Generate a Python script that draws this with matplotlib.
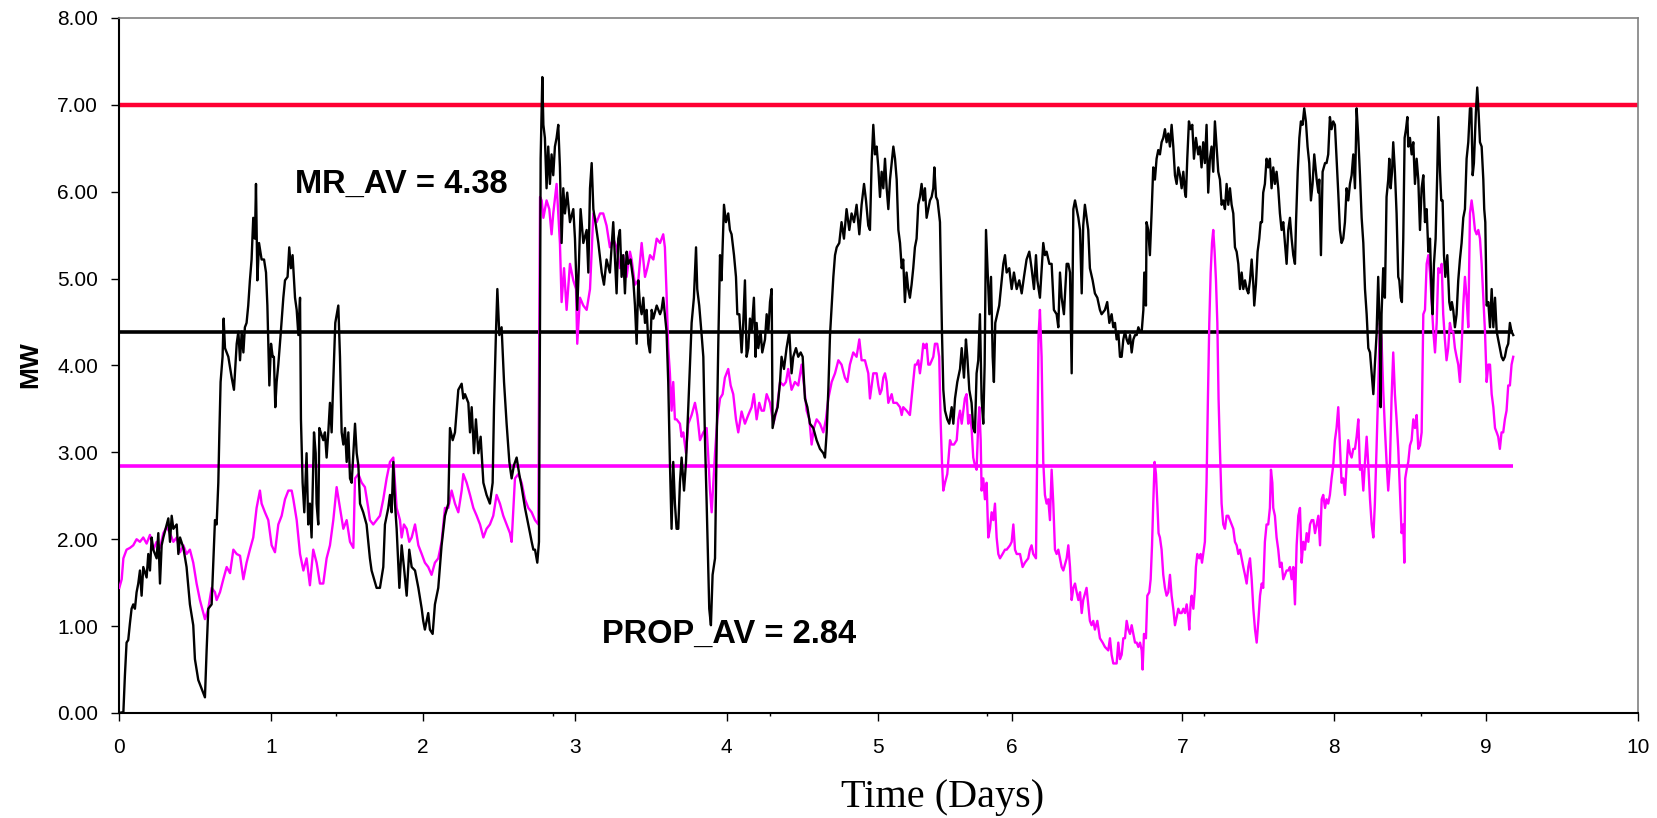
import numpy as np
import matplotlib
matplotlib.use("Agg")
import matplotlib.pyplot as plt

plt.rcParams['font.family'] = ['Liberation Sans', 'DejaVu Sans']

# ---------------- data ----------------
# MR series (black) : time in days, power in MW
mr_days_1 = [0.000, 0.029, 0.039, 0.050, 0.061, 0.072, 0.083, 0.094, 0.105, 0.116,
             0.127, 0.138, 0.149, 0.160, 0.182, 0.193, 0.204, 0.215, 0.226, 0.248,
             0.259, 0.270, 0.281, 0.292, 0.314, 0.325, 0.336, 0.347, 0.358, 0.380,
             0.391, 0.402, 0.424, 0.445, 0.467, 0.489, 0.500, 0.522, 0.544, 0.566,
             0.577, 0.588, 0.610, 0.632, 0.643, 0.654, 0.661, 0.669, 0.682, 0.689,
             0.698, 0.720, 0.742, 0.757, 0.775, 0.786, 0.797, 0.808, 0.819, 0.829,
             0.840, 0.851, 0.862, 0.873, 0.884, 0.895, 0.902, 0.911, 0.922, 0.939,
             0.955, 0.968, 0.977, 0.990, 1.001, 1.012, 1.020, 1.029, 1.038, 1.049,
             1.064, 1.082, 1.093, 1.110, 1.121, 1.132, 1.143, 1.159, 1.170, 1.181,
             1.192, 1.198, 1.209, 1.220, 1.235, 1.246, 1.257, 1.268, 1.284, 1.295,
             1.301, 1.312, 1.319, 1.328, 1.345, 1.356, 1.367, 1.378, 1.389, 1.400,
             1.407, 1.424, 1.444, 1.455, 1.466, 1.477, 1.488, 1.499, 1.510, 1.521,
             1.532, 1.554, 1.565, 1.576, 1.587, 1.608, 1.630]
mr_mw_1 = [0.00, 0.01, 0.43, 0.81, 0.84, 1.03, 1.20, 1.25, 1.20, 1.39,
           1.49, 1.64, 1.35, 1.68, 1.56, 1.83, 1.64, 2.02, 1.88, 1.78,
           2.07, 1.49, 1.93, 2.02, 2.17, 2.24, 1.97, 2.27, 2.12, 2.17,
           1.83, 2.02, 1.90, 1.68, 1.25, 1.01, 0.62, 0.38, 0.28, 0.18,
           0.72, 1.20, 1.25, 2.22, 2.17, 2.65, 3.23, 3.81, 4.10, 4.54,
           4.20, 4.10, 3.86, 3.72, 4.25, 4.39, 4.06, 4.39, 4.15, 4.44,
           4.49, 4.69, 4.98, 5.22, 5.70, 5.46, 6.09, 4.98, 5.41, 5.22,
           5.22, 5.07, 4.69, 3.77, 4.25, 4.10, 4.10, 3.52, 3.81, 4.01,
           4.35, 4.78, 4.98, 5.02, 5.36, 5.12, 5.27, 4.78, 4.64, 4.35,
           4.78, 3.38, 2.65, 2.31, 2.99, 2.17, 2.41, 2.02, 3.23, 2.99,
           2.41, 2.17, 3.28, 3.23, 3.14, 3.23, 2.94, 3.23, 3.57, 3.23,
           3.62, 4.49, 4.69, 4.10, 3.23, 3.09, 3.28, 2.89, 3.23, 2.70,
           2.65, 3.33, 2.99, 2.85, 2.41, 2.31, 2.17]

mr_days_2 = [1.652, 1.663, 1.696, 1.718, 1.740, 1.751, 1.773, 1.784, 1.795, 1.806,
             1.817, 1.828, 1.846, 1.861, 1.876, 1.894, 1.911, 1.927, 1.949, 1.971,
             1.993, 2.003, 2.014, 2.036, 2.047, 2.065, 2.080, 2.102, 2.124, 2.146,
             2.168, 2.179, 2.197, 2.212, 2.234, 2.256, 2.267, 2.278, 2.300, 2.311,
             2.322, 2.337, 2.350, 2.366, 2.381, 2.399, 2.420, 2.442, 2.460, 2.469,
             2.482, 2.491, 2.504, 2.519, 2.535, 2.552, 2.570, 2.585, 2.600, 2.618,
             2.635, 2.651, 2.673, 2.695, 2.706, 2.717, 2.728, 2.739, 2.754, 2.765,
             2.772, 2.776, 2.787, 2.794, 2.804, 2.815, 2.826, 2.837, 2.848, 2.859,
             2.870, 2.881, 2.892, 2.903, 2.914, 2.925, 2.936, 2.951, 2.969, 2.991,
             3.002, 3.017, 3.028, 3.039, 3.057, 3.079, 3.090, 3.101, 3.112, 3.123,
             3.140, 3.156, 3.178, 3.193, 3.210, 3.232, 3.254, 3.276]
mr_mw_2 = [1.78, 1.64, 1.44, 1.44, 1.68, 2.17, 2.36, 2.51, 2.31, 2.89,
           2.41, 2.12, 1.44, 1.93, 1.68, 1.35, 1.88, 1.68, 1.64, 1.44,
           1.20, 1.06, 0.96, 1.15, 0.96, 0.91, 1.25, 1.44, 1.93, 2.27,
           2.41, 3.28, 3.14, 3.23, 3.72, 3.79, 3.62, 3.67, 3.57, 3.23,
           3.52, 2.99, 3.38, 2.99, 3.18, 2.65, 2.51, 2.41, 2.65, 3.52,
           4.39, 4.88, 4.35, 4.44, 3.81, 3.33, 2.89, 2.70, 2.85, 2.94,
           2.75, 2.60, 2.36, 2.17, 2.07, 1.97, 1.88, 1.88, 1.73, 1.97,
           4.59, 6.38, 7.32, 6.77, 6.62, 6.04, 6.52, 6.09, 6.43, 6.19,
           6.52, 6.62, 6.77, 6.28, 5.41, 6.04, 5.75, 5.99, 5.65, 5.80,
           5.46, 4.64, 5.17, 5.80, 5.41, 5.56, 5.07, 6.04, 6.33, 5.80,
           5.61, 5.41, 5.07, 4.93, 5.22, 5.07, 5.65, 4.83]

mr_days_3 = [3.287, 3.298, 3.309, 3.320, 3.331, 3.342, 3.353, 3.368, 3.386, 3.397,
             3.408, 3.419, 3.430, 3.441, 3.452, 3.463, 3.474, 3.485, 3.496, 3.507,
             3.518, 3.540, 3.562, 3.572, 3.583, 3.594, 3.605, 3.616, 3.627, 3.638,
             3.649, 3.660, 3.671, 3.682, 3.693, 3.704, 3.720, 3.733, 3.748, 3.770,
             3.785, 3.799, 3.807, 3.820, 3.836, 3.847, 3.858, 3.869, 3.886, 3.897,
             3.908, 3.924, 3.935, 3.946, 3.957, 3.967, 3.983, 3.996, 4.011, 4.022,
             4.033, 4.049, 4.062, 4.071, 4.084, 4.099, 4.110, 4.121, 4.132, 4.143,
             4.154, 4.165, 4.180, 4.191, 4.198, 4.209, 4.224, 4.235, 4.253, 4.264,
             4.275, 4.286, 4.297, 4.303, 4.319, 4.336, 4.352, 4.362, 4.378, 4.395,
             4.413, 4.428, 4.439, 4.457, 4.472, 4.488, 4.501, 4.516, 4.532, 4.549,
             4.571, 4.593, 4.615, 4.637, 4.648, 4.659, 4.670, 4.681, 4.692, 4.703,
             4.714, 4.725, 4.742, 4.757, 4.773, 4.790, 4.808, 4.823, 4.839, 4.856,
             4.874, 4.889, 4.905, 4.918]
mr_mw_3 = [5.46, 5.56, 5.02, 5.27, 4.83, 5.31, 5.17, 5.22, 4.98, 4.69,
           4.25, 4.98, 4.69, 4.59, 4.78, 4.49, 4.64, 4.25, 4.15, 4.64,
           4.54, 4.69, 4.59, 4.64, 4.78, 4.59, 4.39, 3.81, 2.89, 2.12,
           2.89, 2.41, 2.12, 2.12, 2.65, 2.94, 2.56, 2.89, 3.52, 4.49,
           4.78, 5.36, 4.88, 4.69, 4.35, 4.10, 3.14, 2.41, 1.20, 1.01,
           1.59, 1.78, 3.14, 4.30, 5.27, 4.98, 5.85, 5.65, 5.75, 5.56,
           5.51, 5.27, 5.02, 4.59, 4.59, 4.15, 4.49, 4.98, 4.10, 4.20,
           4.54, 4.39, 4.78, 4.10, 4.49, 4.20, 4.39, 4.15, 4.30, 4.59,
           4.39, 4.73, 4.88, 3.28, 3.43, 3.52, 3.81, 4.10, 3.96, 4.20,
           4.39, 3.91, 4.10, 4.20, 4.10, 4.15, 4.10, 3.62, 3.52, 3.33,
           3.28, 3.14, 3.04, 2.99, 2.94, 3.23, 3.72, 4.35, 4.69, 5.02,
           5.27, 5.36, 5.41, 5.65, 5.46, 5.80, 5.56, 5.75, 5.65, 5.85,
           5.51, 5.85, 6.09, 5.90]

mr_days_4 = [4.933, 4.944, 4.955, 4.966, 4.977, 4.988, 4.999, 5.010, 5.021, 5.032,
             5.043, 5.054, 5.065, 5.076, 5.087, 5.098, 5.109, 5.120, 5.131, 5.142,
             5.153, 5.163, 5.174, 5.185, 5.196, 5.207, 5.218, 5.229, 5.240, 5.251,
             5.262, 5.273, 5.284, 5.295, 5.306, 5.317, 5.328, 5.339, 5.350, 5.361,
             5.368, 5.379, 5.389, 5.405, 5.411, 5.418, 5.427, 5.438, 5.453, 5.466,
             5.482, 5.493, 5.504, 5.519, 5.537, 5.548, 5.563, 5.576, 5.585, 5.598,
             5.613, 5.624, 5.635, 5.646, 5.657, 5.668, 5.679, 5.690, 5.699, 5.708,
             5.719, 5.730, 5.741, 5.752, 5.760, 5.769, 5.782, 5.795, 5.811, 5.822,
             5.833, 5.844, 5.861, 5.877, 5.892, 5.910, 5.927, 5.943, 5.958, 5.975,
             5.993, 6.008, 6.024, 6.037, 6.046, 6.063, 6.085, 6.096, 6.107, 6.125,
             6.140, 6.155, 6.173, 6.184, 6.195, 6.206, 6.221, 6.239, 6.250, 6.261,
             6.272, 6.283, 6.294, 6.305, 6.316, 6.327, 6.338, 6.348, 6.359, 6.370,
             6.381, 6.392, 6.410, 6.425, 6.441, 6.458, 6.469, 6.491, 6.506, 6.520,
             6.535, 6.546, 6.557, 6.568]
mr_mw_4 = [5.61, 5.56, 6.33, 6.77, 6.43, 6.52, 6.28, 5.94, 6.23, 6.04,
           6.38, 6.04, 5.80, 6.14, 6.33, 6.52, 6.38, 6.14, 5.56, 5.41,
           5.12, 5.22, 4.73, 5.07, 4.88, 4.78, 4.93, 5.12, 5.36, 5.46,
           5.85, 5.94, 6.09, 5.90, 6.04, 5.70, 5.80, 5.90, 5.94, 6.04,
           6.28, 5.94, 5.90, 5.65, 5.07, 4.39, 3.72, 3.48, 3.38, 3.33,
           3.52, 3.33, 3.62, 3.81, 3.96, 4.20, 3.86, 4.30, 4.10, 3.72,
           3.57, 3.28, 3.23, 3.91, 4.06, 4.59, 3.62, 3.33, 4.01, 5.56,
           5.07, 4.59, 5.02, 4.10, 3.81, 4.49, 4.59, 4.69, 4.98, 5.17,
           5.27, 5.07, 5.12, 4.88, 5.07, 4.88, 4.98, 4.83, 5.02, 5.22,
           5.31, 5.12, 4.88, 5.27, 4.98, 4.78, 5.41, 5.27, 5.31, 5.17,
           5.17, 4.64, 4.59, 4.44, 5.07, 4.78, 4.59, 5.17, 5.17, 5.07,
           3.91, 5.80, 5.90, 5.80, 5.70, 5.56, 4.83, 5.61, 5.85, 5.70,
           5.56, 5.12, 4.98, 4.83, 4.78, 4.64, 4.59, 4.64, 4.73, 4.49,
           4.59, 4.44, 4.49, 4.30]

mr_days_5 = [6.579, 6.590, 6.601, 6.612, 6.623, 6.634, 6.645, 6.656, 6.667, 6.678,
             6.689, 6.700, 6.711, 6.722, 6.733, 6.744, 6.750, 6.761, 6.765, 6.776,
             6.787, 6.798, 6.809, 6.820, 6.831, 6.842, 6.853, 6.864, 6.875, 6.886,
             6.897, 6.908, 6.919, 6.930, 6.941, 6.952, 6.963, 6.974, 6.985, 6.996,
             7.007, 7.018, 7.024, 7.033, 7.044, 7.055, 7.066, 7.077, 7.090, 7.105,
             7.116, 7.127, 7.138, 7.149, 7.160, 7.171, 7.182, 7.193, 7.204, 7.215,
             7.226, 7.237, 7.248, 7.259, 7.270, 7.281, 7.292, 7.303, 7.314, 7.325,
             7.336, 7.347, 7.358, 7.369, 7.380, 7.391, 7.402, 7.413, 7.424, 7.435,
             7.446, 7.457, 7.468, 7.474, 7.485, 7.496, 7.507, 7.516, 7.525, 7.533,
             7.544, 7.555, 7.566, 7.577, 7.588, 7.599, 7.610, 7.621, 7.632, 7.643,
             7.654, 7.665, 7.676, 7.687, 7.698, 7.709, 7.720, 7.731, 7.742, 7.749,
             7.760, 7.771, 7.781, 7.792, 7.803, 7.814, 7.825, 7.836, 7.847, 7.858,
             7.869, 7.885, 7.896, 7.902, 7.913, 7.924, 7.940, 7.950, 7.961, 7.972,
             7.983, 7.994, 8.005, 8.016, 8.027, 8.038, 8.049, 8.060, 8.071, 8.082,
             8.093, 8.104, 8.115, 8.126, 8.137, 8.148, 8.159, 8.170, 8.181, 8.192,
             8.203, 8.214]
mr_mw_5 = [4.39, 4.10, 4.10, 4.30, 4.39, 4.30, 4.25, 4.35, 4.15, 4.30,
           4.35, 4.35, 4.44, 4.39, 4.39, 4.64, 5.07, 4.69, 5.65, 5.56,
           5.27, 5.75, 6.28, 6.14, 6.38, 6.48, 6.43, 6.57, 6.62, 6.72,
           6.57, 6.67, 6.52, 6.77, 6.52, 6.19, 6.09, 6.28, 6.19, 6.04,
           6.23, 5.99, 5.94, 6.38, 6.81, 6.72, 6.77, 6.38, 6.62, 6.43,
           6.52, 6.28, 6.57, 6.33, 6.77, 5.99, 6.38, 6.52, 6.23, 6.81,
           6.52, 6.23, 6.14, 5.85, 5.90, 5.80, 6.09, 5.85, 6.04, 5.85,
           5.75, 5.36, 5.31, 5.17, 4.88, 5.07, 4.88, 4.98, 4.88, 4.83,
           4.98, 5.22, 4.93, 4.69, 4.93, 5.31, 5.46, 5.65, 5.65, 5.99,
           6.09, 6.38, 6.28, 6.38, 6.04, 6.28, 6.09, 6.23, 6.04, 5.75,
           5.56, 5.65, 5.41, 5.17, 5.56, 5.70, 5.46, 5.27, 5.17, 5.65,
           6.23, 6.62, 6.81, 6.77, 6.96, 6.81, 6.52, 6.33, 5.90, 6.09,
           6.43, 6.14, 5.99, 6.14, 5.27, 6.23, 6.33, 6.33, 6.43, 6.86,
           6.72, 6.81, 6.77, 6.38, 5.99, 5.56, 5.41, 5.46, 5.65, 6.04,
           5.90, 6.09, 6.19, 6.43, 6.04, 6.96, 6.62, 6.19, 5.70, 5.41,
           4.88, 4.59]

mr_days_6 = [8.225, 8.236, 8.247, 8.258, 8.268, 8.279, 8.290, 8.301, 8.306, 8.312,
             8.323, 8.334, 8.345, 8.356, 8.363, 8.372, 8.381, 8.389, 8.400, 8.411,
             8.422, 8.429, 8.438, 8.446, 8.455, 8.464, 8.473, 8.482, 8.488, 8.499,
             8.510, 8.521, 8.532, 8.543, 8.554, 8.565, 8.576, 8.587, 8.598, 8.609,
             8.620, 8.631, 8.642, 8.648, 8.657, 8.668, 8.679, 8.686, 8.697, 8.705,
             8.714, 8.723, 8.732, 8.745, 8.758, 8.767, 8.775, 8.784, 8.795, 8.806,
             8.817, 8.828, 8.839, 8.850, 8.861, 8.872, 8.883, 8.894, 8.903, 8.912,
             8.920, 8.933, 8.942, 8.951, 8.960, 8.971, 8.982, 8.988, 8.995, 9.004,
             9.015, 9.026, 9.037, 9.048, 9.059, 9.070, 9.080, 9.091, 9.102, 9.113,
             9.124, 9.135, 9.146, 9.157, 9.168, 9.179]
mr_mw_6 = [4.20, 4.15, 3.91, 3.67, 4.01, 4.35, 5.02, 4.35, 3.52, 4.59,
           5.12, 4.78, 5.94, 6.14, 6.38, 6.04, 6.23, 6.57, 6.23, 5.75,
           5.02, 4.98, 4.78, 4.73, 5.46, 6.62, 6.72, 6.86, 6.52, 6.62,
           6.43, 6.57, 6.09, 6.38, 6.14, 5.56, 6.04, 6.19, 5.65, 5.80,
           5.31, 5.46, 4.78, 4.59, 5.17, 5.46, 6.23, 6.86, 6.23, 5.90,
           5.90, 5.27, 5.02, 5.27, 4.73, 4.64, 4.73, 4.64, 4.44, 4.59,
           4.98, 5.22, 5.41, 5.70, 5.80, 6.38, 6.57, 6.96, 6.96, 6.19,
           6.33, 6.91, 7.20, 6.91, 6.57, 6.52, 6.14, 5.80, 5.65, 4.69,
           4.73, 4.44, 4.88, 4.44, 4.78, 4.39, 4.30, 4.20, 4.10, 4.06,
           4.10, 4.20, 4.25, 4.49, 4.39, 4.35]

# PROP series (magenta)
prop_days_1 = [0.002, 0.018, 0.029, 0.050, 0.072, 0.094, 0.116, 0.138, 0.160, 0.182,
               0.204, 0.226, 0.248, 0.270, 0.292, 0.314, 0.336, 0.358, 0.380, 0.402,
               0.424, 0.445, 0.467, 0.489, 0.511, 0.533, 0.555, 0.566, 0.588, 0.610,
               0.632, 0.643, 0.665, 0.687, 0.709, 0.731, 0.753, 0.775, 0.797, 0.819,
               0.840, 0.862, 0.884, 0.906, 0.928, 0.939, 0.961, 0.983, 1.005, 1.027,
               1.049, 1.071, 1.093, 1.115, 1.137, 1.148, 1.170, 1.192, 1.214, 1.235,
               1.257, 1.279, 1.301, 1.323, 1.345, 1.367, 1.389, 1.411, 1.433, 1.455,
               1.477, 1.499, 1.521, 1.543, 1.554, 1.576, 1.598, 1.619, 1.641]
prop_mw_1 = [1.44, 1.54, 1.78, 1.88, 1.90, 1.93, 2.00, 1.97, 2.02, 1.95,
             2.05, 1.88, 1.97, 1.90, 2.07, 2.14, 2.07, 1.97, 2.02, 1.85,
             1.93, 1.83, 1.88, 1.73, 1.49, 1.30, 1.15, 1.08, 1.20, 1.44,
             1.39, 1.30, 1.39, 1.54, 1.68, 1.61, 1.88, 1.83, 1.81, 1.54,
             1.73, 1.88, 2.02, 2.36, 2.56, 2.41, 2.31, 2.22, 1.93, 1.85,
             2.17, 2.27, 2.46, 2.56, 2.56, 2.46, 2.22, 1.83, 1.64, 1.78,
             1.47, 1.88, 1.73, 1.49, 1.49, 1.78, 1.93, 2.22, 2.60, 2.36,
             2.12, 2.22, 1.97, 1.90, 2.70, 2.75, 2.65, 2.60, 2.36]

prop_days_2 = [1.652, 1.674, 1.696, 1.718, 1.740, 1.762, 1.784, 1.806, 1.817, 1.828,
               1.850, 1.861, 1.876, 1.894, 1.911, 1.927, 1.949, 1.971, 1.993, 2.014,
               2.036, 2.058, 2.080, 2.102, 2.124, 2.146, 2.168, 2.190, 2.212, 2.234,
               2.256, 2.267, 2.289, 2.311, 2.333, 2.355, 2.377, 2.399, 2.420, 2.442,
               2.464, 2.486, 2.508, 2.530, 2.552, 2.574, 2.585, 2.607, 2.629, 2.651,
               2.673, 2.695, 2.717, 2.739, 2.761, 2.767, 2.772, 2.783, 2.794, 2.815,
               2.833, 2.848, 2.859, 2.881, 2.903, 2.914, 2.930, 2.947, 2.969, 2.991,
               3.009, 3.017, 3.035, 3.057, 3.079, 3.101, 3.123, 3.145, 3.167, 3.188,
               3.210, 3.232, 3.254, 3.276]
prop_mw_2 = [2.22, 2.17, 2.22, 2.27, 2.46, 2.70, 2.89, 2.94, 2.65, 2.36,
             2.22, 2.02, 2.17, 2.12, 1.97, 2.02, 2.17, 1.93, 1.83, 1.73,
             1.68, 1.59, 1.73, 1.78, 1.97, 2.36, 2.36, 2.56, 2.41, 2.31,
             2.56, 2.75, 2.65, 2.51, 2.36, 2.27, 2.17, 2.02, 2.12, 2.17,
             2.27, 2.51, 2.41, 2.27, 2.17, 2.07, 1.97, 2.70, 2.75, 2.65,
             2.46, 2.36, 2.31, 2.22, 2.17, 4.39, 5.94, 5.90, 5.70, 5.90,
             5.80, 5.51, 5.75, 6.09, 5.41, 4.73, 5.12, 4.64, 5.17, 4.98,
             4.88, 4.25, 4.78, 4.69, 4.64, 4.88, 5.75, 5.65, 5.75, 5.75,
             5.61, 5.36, 5.46, 5.36]

prop_days_3 = [3.298, 3.320, 3.342, 3.364, 3.375, 3.397, 3.419, 3.441, 3.463, 3.478,
               3.496, 3.518, 3.540, 3.562, 3.583, 3.594, 3.605, 3.616, 3.627, 3.638,
               3.649, 3.660, 3.671, 3.693, 3.704, 3.715, 3.733, 3.748, 3.770, 3.792,
               3.807, 3.825, 3.847, 3.869, 3.880, 3.891, 3.902, 3.913, 3.924, 3.939,
               3.957, 3.974, 3.989, 4.011, 4.027, 4.044, 4.062, 4.077, 4.099, 4.121,
               4.143, 4.165, 4.180, 4.198, 4.215, 4.231, 4.246, 4.264, 4.286, 4.308,
               4.330, 4.352, 4.374, 4.391, 4.406, 4.428, 4.450, 4.472, 4.494, 4.510,
               4.527, 4.545, 4.560, 4.575, 4.593, 4.615, 4.637, 4.654, 4.670, 4.692,
               4.714, 4.736, 4.757, 4.779, 4.795, 4.812, 4.834, 4.856, 4.874, 4.889,
               4.911, 4.933]
prop_mw_3 = [5.12, 5.27, 5.02, 5.31, 5.22, 4.93, 4.98, 5.41, 5.02, 5.12,
             5.27, 5.22, 5.46, 5.41, 5.51, 5.36, 4.83, 4.20, 3.91, 3.48,
             3.81, 3.38, 3.38, 3.33, 3.18, 3.23, 2.99, 3.33, 3.43, 3.57,
             3.43, 3.14, 3.23, 3.28, 2.94, 2.56, 2.31, 2.65, 2.99, 3.38,
             3.62, 3.67, 3.86, 3.96, 3.77, 3.67, 3.38, 3.23, 3.47, 3.33,
             3.43, 3.52, 3.67, 3.38, 3.57, 3.48, 3.48, 3.67, 3.57, 3.33,
             3.48, 3.81, 3.77, 3.81, 3.96, 3.72, 3.81, 3.77, 4.01, 3.77,
             3.48, 3.38, 3.09, 3.28, 3.38, 3.33, 3.23, 3.38, 3.62, 3.81,
             3.91, 4.06, 4.01, 3.86, 3.81, 4.01, 4.15, 4.10, 4.30, 4.06,
             4.06, 3.91]

prop_days_4 = [4.944, 4.955, 4.966, 4.977, 4.988, 4.999, 5.010, 5.021, 5.032, 5.043,
               5.054, 5.065, 5.076, 5.087, 5.098, 5.120, 5.142, 5.153, 5.163, 5.185,
               5.207, 5.218, 5.229, 5.240, 5.251, 5.262, 5.273, 5.284, 5.295, 5.306,
               5.317, 5.328, 5.339, 5.361, 5.372, 5.387, 5.400, 5.409, 5.418, 5.427,
               5.438, 5.453, 5.462, 5.471, 5.482, 5.497, 5.515, 5.526, 5.537, 5.548,
               5.559, 5.569, 5.580, 5.591, 5.602, 5.613, 5.624, 5.635, 5.646, 5.657,
               5.664, 5.673, 5.679, 5.690, 5.701, 5.712, 5.723, 5.734, 5.745, 5.756,
               5.767, 5.778, 5.789, 5.800, 5.817, 5.833, 5.844, 5.866, 5.877, 5.888,
               5.899, 5.910, 5.932, 5.949, 5.964, 5.986, 5.997, 6.008, 6.019, 6.037,
               6.046, 6.054, 6.063, 6.074, 6.085, 6.096, 6.107, 6.118, 6.129, 6.140,
               6.151, 6.162, 6.173, 6.184, 6.195, 6.206, 6.217, 6.239, 6.250, 6.261,
               6.272, 6.283, 6.294, 6.305, 6.316, 6.327, 6.338, 6.348, 6.370, 6.381,
               6.392, 6.403, 6.414, 6.425, 6.441, 6.458, 6.476, 6.491, 6.513, 6.524,
               6.535, 6.546, 6.568]
prop_mw_4 = [3.62, 3.77, 3.91, 3.91, 3.91, 3.77, 3.67, 3.72, 3.86, 3.91,
             3.81, 3.57, 3.62, 3.67, 3.57, 3.57, 3.52, 3.43, 3.52, 3.48,
             3.43, 3.62, 3.81, 4.01, 4.01, 4.06, 3.91, 4.06, 4.25, 4.20,
             4.25, 4.01, 4.01, 4.10, 4.25, 4.25, 4.10, 3.38, 2.89, 2.56,
             2.65, 2.75, 2.94, 3.14, 3.09, 3.09, 3.14, 3.38, 3.48, 3.33,
             3.48, 3.62, 3.67, 3.33, 3.43, 3.28, 2.94, 2.85, 2.80, 3.33,
             3.52, 3.14, 2.56, 2.70, 2.46, 2.65, 2.02, 2.12, 2.31, 2.22,
             2.41, 2.02, 1.83, 1.78, 1.83, 1.88, 1.88, 1.93, 1.97, 2.17,
             1.88, 1.83, 1.83, 1.68, 1.73, 1.78, 1.88, 1.93, 1.83, 1.78,
             3.14, 4.35, 4.64, 4.10, 2.89, 2.51, 2.41, 2.46, 2.22, 2.80,
             2.41, 1.88, 1.83, 1.88, 1.78, 1.68, 1.64, 1.78, 1.93, 1.68,
             1.30, 1.44, 1.49, 1.39, 1.30, 1.39, 1.15, 1.30, 1.44, 1.25,
             1.06, 1.01, 1.06, 0.96, 1.06, 0.86, 0.81, 0.76, 0.72, 0.86,
             0.67, 0.57, 0.57]

prop_days_5 = [6.579, 6.590, 6.601, 6.612, 6.623, 6.634, 6.645, 6.656, 6.667, 6.678,
               6.689, 6.700, 6.711, 6.722, 6.733, 6.739, 6.748, 6.761, 6.770, 6.783,
               6.792, 6.801, 6.809, 6.818, 6.827, 6.836, 6.844, 6.853, 6.864, 6.875,
               6.886, 6.897, 6.908, 6.919, 6.930, 6.941, 6.952, 6.963, 6.974, 6.985,
               6.996, 7.007, 7.018, 7.029, 7.040, 7.046, 7.055, 7.062, 7.073, 7.084,
               7.090, 7.099, 7.112, 7.121, 7.130, 7.138, 7.149, 7.160, 7.169, 7.178,
               7.187, 7.196, 7.204, 7.213, 7.222, 7.231, 7.239, 7.248, 7.259, 7.270,
               7.281, 7.292, 7.303, 7.314, 7.325, 7.336, 7.347, 7.358, 7.369, 7.380,
               7.391, 7.402, 7.413, 7.424, 7.435, 7.446, 7.457, 7.468, 7.479, 7.490,
               7.501, 7.512, 7.523, 7.533, 7.544, 7.555, 7.566, 7.577, 7.584, 7.593,
               7.599, 7.610, 7.621, 7.632, 7.643, 7.654, 7.665, 7.676, 7.687, 7.698,
               7.709, 7.720, 7.731, 7.742, 7.753, 7.764, 7.775, 7.786, 7.797, 7.808,
               7.819, 7.830, 7.841, 7.852, 7.863, 7.874, 7.885, 7.896, 7.907, 7.918,
               7.928, 7.940, 7.950, 7.961, 7.972, 7.983, 7.994, 8.005, 8.016, 8.027,
               8.038, 8.049, 8.060, 8.071, 8.082, 8.093, 8.104, 8.115, 8.126, 8.137,
               8.148, 8.159, 8.170, 8.181, 8.192, 8.203, 8.214]
prop_mw_5 = [0.81, 0.62, 0.67, 0.86, 0.86, 1.06, 0.96, 0.91, 1.01, 0.91,
             0.81, 0.81, 0.76, 0.81, 0.72, 0.50, 0.91, 0.86, 1.35, 1.39,
             1.54, 1.93, 2.41, 2.89, 2.75, 2.41, 2.07, 2.02, 1.88, 1.59,
             1.44, 1.35, 1.39, 1.59, 1.35, 1.20, 1.01, 1.10, 1.20, 1.15,
             1.15, 1.20, 1.15, 1.25, 1.10, 0.96, 1.25, 1.35, 1.20, 1.44,
             1.68, 1.83, 1.78, 1.83, 1.73, 1.83, 1.97, 2.65, 3.62, 4.49,
             5.07, 5.41, 5.56, 5.31, 4.98, 4.49, 3.62, 3.04, 2.41, 2.17,
             2.12, 2.27, 2.27, 2.22, 2.17, 2.12, 1.97, 1.93, 1.83, 1.88,
             1.78, 1.68, 1.59, 1.49, 1.68, 1.78, 1.54, 1.20, 0.96, 0.81,
             1.06, 1.35, 1.49, 1.44, 1.97, 2.17, 2.17, 2.36, 2.80, 2.65,
             2.36, 2.27, 2.02, 1.88, 1.68, 1.73, 1.54, 1.59, 1.64, 1.64,
             1.68, 1.54, 1.68, 1.25, 1.93, 2.27, 2.36, 1.73, 1.97, 1.88,
             2.07, 1.97, 2.17, 2.22, 2.22, 2.07, 2.17, 2.27, 1.93, 2.46,
             2.51, 2.36, 2.46, 2.41, 2.51, 2.70, 2.85, 3.14, 3.28, 3.52,
             3.08, 2.65, 2.70, 2.51, 2.85, 3.14, 2.99, 2.94, 3.04, 3.04,
             3.18, 3.38, 2.80, 2.85, 2.56, 2.89, 3.18]

prop_days_6 = [8.225, 8.236, 8.247, 8.258, 8.268, 8.279, 8.290, 8.301, 8.312, 8.323,
               8.334, 8.345, 8.356, 8.367, 8.378, 8.389, 8.400, 8.411, 8.422, 8.433,
               8.444, 8.455, 8.462, 8.468, 8.477, 8.488, 8.499, 8.510, 8.521, 8.532,
               8.543, 8.554, 8.565, 8.576, 8.587, 8.598, 8.609, 8.620, 8.631, 8.642,
               8.653, 8.664, 8.675, 8.686, 8.697, 8.708, 8.718, 8.729, 8.740, 8.751,
               8.762, 8.773, 8.784, 8.795, 8.806, 8.817, 8.828, 8.839, 8.850, 8.861,
               8.872, 8.883, 8.894, 8.905, 8.916, 8.927, 8.938, 8.949, 8.960, 8.971,
               8.982, 8.993, 9.004, 9.015, 9.026, 9.037, 9.048, 9.059, 9.070, 9.080,
               9.091, 9.102, 9.113, 9.124, 9.135, 9.146, 9.157, 9.168, 9.179]
prop_mw_6 = [2.85, 2.46, 2.17, 2.02, 2.41, 3.04, 3.72, 4.49, 4.30, 3.72,
             3.28, 2.89, 2.56, 2.85, 3.62, 4.15, 3.67, 3.38, 3.04, 2.56,
             2.07, 2.17, 1.73, 2.70, 2.80, 2.89, 3.08, 3.14, 3.38, 3.28,
             3.43, 3.04, 3.08, 3.23, 4.59, 4.64, 5.17, 5.27, 5.07, 4.73,
             4.39, 4.15, 4.49, 5.12, 5.07, 5.17, 4.59, 4.30, 4.06, 4.20,
             4.49, 4.39, 4.39, 4.20, 4.10, 4.01, 3.81, 4.20, 4.69, 5.02,
             4.78, 4.44, 5.75, 5.90, 5.75, 5.56, 5.51, 5.56, 5.46, 5.17,
             4.78, 4.39, 3.81, 4.01, 4.01, 3.67, 3.52, 3.28, 3.23, 3.18,
             3.04, 3.23, 3.23, 3.38, 3.48, 3.77, 3.77, 4.01, 4.10]

# reference levels
limit_mw = 7.00
mr_avg = 4.38
prop_avg = 2.84
avg_end_day = 9.18

# axis labels
x_tick_labels = ['0', '1', '2', '3', '4', '5', '6', '7', '8', '9', '10']
x_tick_pos = [0, 1, 2, 3, 4, 5, 5.88, 7, 8, 9, 10]
y_ticks = [0, 1, 2, 3, 4, 5, 6, 7, 8]


def join(parts_d, parts_v):
    d, v = [], []
    for a, b in zip(parts_d, parts_v):
        n = min(len(a), len(b))
        d.extend(a[:n]); v.extend(b[:n])
    return np.array(d), np.array(v)


mr_d, mr_v = join([mr_days_1, mr_days_2, mr_days_3, mr_days_4, mr_days_5, mr_days_6],
                  [mr_mw_1, mr_mw_2, mr_mw_3, mr_mw_4, mr_mw_5, mr_mw_6])
pr_d, pr_v = join([prop_days_1, prop_days_2, prop_days_3, prop_days_4, prop_days_5, prop_days_6],
                  [prop_mw_1, prop_mw_2, prop_mw_3, prop_mw_4, prop_mw_5, prop_mw_6])

# ---------------- figure ----------------
fig = plt.figure(figsize=(16.57, 8.18), dpi=100)
ax = fig.add_axes([0.0718, 0.1284, 0.9167, 0.8496])
ax.set_xlim(0, 10)
ax.set_ylim(0, 8)

ax.plot([0, 10], [limit_mw, limit_mw], color='#FF0033', lw=3.2, solid_capstyle='butt', zorder=2)
ax.plot([0, avg_end_day], [mr_avg, mr_avg], color='black', lw=2.6, solid_capstyle='butt', zorder=2)
ax.plot([0, avg_end_day], [prop_avg, prop_avg], color='#FF00FF', lw=2.6, solid_capstyle='butt', zorder=2)

ax.plot(pr_d, pr_v, color='#FF00FF', lw=1.7, zorder=3)
ax.plot(mr_d, mr_v, color='black', lw=1.7, zorder=4)

ax.text(1.16, 6.08, 'MR_AV = 4.38', fontsize=23.5, fontweight='bold', ha='left', va='center')
ax.text(3.18, 0.90, 'PROP_AV = 2.84', fontsize=23.5, fontweight='bold', ha='left', va='center')

ax.set_yticks(y_ticks)
ax.set_yticklabels(['%.2f' % t for t in y_ticks])
ax.set_xticks(x_tick_pos)
ax.set_xticklabels(x_tick_labels)
ax.set_xticks([k * 10 / 7 for k in range(1, 7)], minor=True)
ax.tick_params(axis='y', direction='out', length=6, width=1.0, labelsize=15, pad=9)
ax.tick_params(axis='x', which='major', direction='out', length=6, width=1.0, labelsize=15, pad=12)
ax.tick_params(axis='x', which='minor', direction='out', length=2, width=1.0)

for s in ['left', 'bottom']:
    ax.spines[s].set_color('black')
    ax.spines[s].set_linewidth(1.5)
for s in ['top', 'right']:
    ax.spines[s].set_color('#808080')
    ax.spines[s].set_linewidth(1.2)

fig.text(30 / 1657, 1 - 365 / 818, 'MW', rotation=90, fontsize=19, fontweight='bold',
         ha='center', va='center')
fig.text(943 / 1657, 1 - 797 / 818, 'Time (Days)', fontsize=29,
         family=['Liberation Serif', 'DejaVu Serif'], ha='center', va='center')

fig.savefig('out.png', dpi=100)
